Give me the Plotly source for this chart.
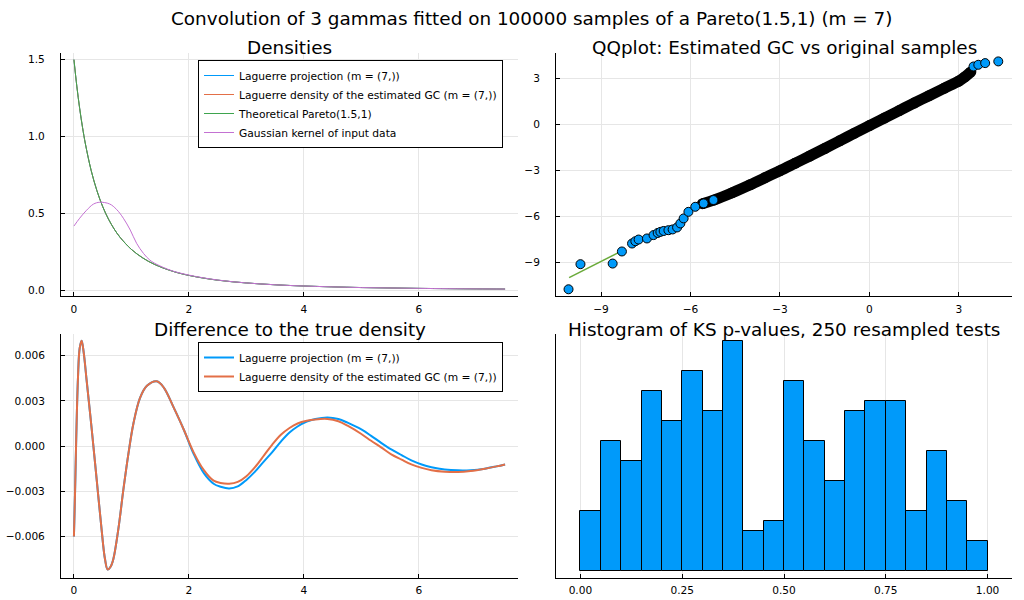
import plotly.graph_objects as go

# Plots.jl default palette
BLUE = "#009AFA"
ORANGE = "#E36F47"
GREEN = "#3EA44E"
PURPLE = "#C371D2"
QQ_GREEN = "#6AAA3A"
FONT = "DejaVu Sans"

# ---- Densities panel ----
dens_x = [0.0, 0.05, 0.1, 0.15, 0.2, 0.3, 0.4, 0.5, 0.6, 0.7, 0.8, 1.0, 1.2, 1.4,
          1.7, 2.0, 2.5, 3.0, 3.5, 4.0, 5.0, 6.0, 7.0, 7.5]
pareto_density = [1.5, 1.328, 1.182, 1.058, 0.951, 0.778, 0.647, 0.544, 0.463, 0.398,
                  0.345, 0.265, 0.209, 0.168, 0.125, 0.096, 0.065, 0.047, 0.035, 0.027,
                  0.017, 0.0116, 0.0083, 0.0071]
# the two Laguerre densities sit exactly under the Pareto curve at this scale
projection_density = pareto_density
estimated_gc_density = pareto_density

kernel_x = [0.0, 0.1, 0.22, 0.34, 0.45, 0.62, 0.74, 0.86, 0.98, 1.09, 1.21, 1.32, 1.44,
            1.7, 2.0, 2.5, 3.0, 3.5, 4.0, 5.0, 6.0, 7.0, 7.5]
kernel_density = [0.417, 0.468, 0.52, 0.56, 0.572, 0.561, 0.526, 0.468, 0.391, 0.305,
                  0.239, 0.196, 0.168, 0.127, 0.098, 0.066, 0.047, 0.035, 0.027, 0.017,
                  0.0116, 0.0083, 0.0071]

# ---- Difference to the true density ----
diff_x = [0.0, 0.02, 0.04, 0.07, 0.10, 0.134, 0.17, 0.22, 0.31, 0.395, 0.48, 0.54, 0.587,
          0.64, 0.686, 0.773, 0.86, 0.948, 1.035, 1.15, 1.27, 1.44, 1.56, 1.73, 1.91,
          2.08, 2.26, 2.43, 2.55, 2.7, 2.85, 3.0, 3.15, 3.31, 3.45, 3.6, 3.75, 3.89,
          4.05, 4.2, 4.41, 4.6, 4.76, 5.0, 5.17, 5.35, 5.52, 5.7, 5.87, 6.05, 6.22,
          6.45, 6.68, 6.9, 7.15, 7.35, 7.5]
diff_projection = [-0.0060, -0.0030, 0.0005, 0.0045, 0.0065, 0.0070, 0.0062, 0.0044,
                   0.0011, -0.0022, -0.0055, -0.0075, -0.0082, -0.0080, -0.0075, -0.0055,
                   -0.0029, -0.0005, 0.0015, 0.0032, 0.0040, 0.0043, 0.0039, 0.0026,
                   0.0011, -0.0005, -0.0018, -0.0025, -0.0027, -0.00282, -0.00268,
                   -0.00225, -0.0017, -0.0010, -0.0004, 0.0003, 0.0009, 0.0013, 0.00163,
                   0.0018, 0.0019, 0.0018, 0.00155, 0.0011, 0.00068, 0.0002, -0.00022,
                   -0.0006, -0.00095, -0.00122, -0.0014, -0.00155, -0.00161, -0.0016,
                   -0.0015, -0.00135, -0.00122]
diff_estimated_gc = [-0.0060, -0.0030, 0.0005, 0.0045, 0.0065, 0.0070, 0.0062, 0.0044,
                     0.0011, -0.0022, -0.0055, -0.0075, -0.0082, -0.0080, -0.0075, -0.0055,
                     -0.0029, -0.0005, 0.0015, 0.0032, 0.0040, 0.0043, 0.0039, 0.0026,
                     0.0011, -0.0004, -0.0016, -0.0023, -0.00245, -0.0025, -0.00238,
                     -0.0020, -0.0014, -0.0006, 0.0001, 0.00075, 0.0012, 0.0015, 0.00168,
                     0.00177, 0.0018, 0.00165, 0.00135, 0.0008, 0.00035, -0.0001, -0.00055,
                     -0.0009, -0.00122, -0.00145, -0.0016, -0.0017, -0.00172, -0.00165,
                     -0.0015, -0.00135, -0.00122]

# ---- QQ plot ----
qq_line_x = [-10.07, -8.3]
qq_line_y = [-10.0, -8.25]
# dense middle part, where the markers merge into one band
qq_band_x = [-5.6, -5.2, -4.6, -4.0, -3.5, -3.0, -2.5, -2.0, -1.5, -1.0, -0.5, 0.0, 0.5,
             1.0, 1.5, 2.0, 2.5, 3.0, 3.2, 3.4]
qq_band_y = [-5.17, -4.92, -4.45, -3.93, -3.47, -3.01, -2.53, -2.05, -1.56, -1.06, -0.56,
             -0.06, 0.43, 0.92, 1.41, 1.89, 2.37, 2.85, 3.12, 3.45]
# isolated points in both tails
qq_tail_x = [-10.09, -9.69, -8.61, -8.30, -7.96, -7.85, -7.74, -7.46, -7.24, -7.1, -7.01,
             -6.9, -6.74, -6.6, -6.45, -6.34, -6.23, -6.07, -5.84, -5.56, -5.23,
             3.49, 3.65, 3.88, 4.32]
qq_tail_y = [-10.76, -9.12, -9.08, -8.29, -7.77, -7.62, -7.51, -7.44, -7.22, -7.08, -7.01,
             -6.95, -6.90, -6.85, -6.72, -6.46, -6.13, -5.70, -5.37, -5.15, -4.93,
             3.80, 3.91, 4.02, 4.13]

# ---- Histogram of KS p-values ----
pvalue_bins = [0.025, 0.075, 0.125, 0.175, 0.225, 0.275, 0.325, 0.375, 0.425, 0.475,
               0.525, 0.575, 0.625, 0.675, 0.725, 0.775, 0.825, 0.875, 0.925, 0.975]
pvalue_counts = [6, 13, 11, 18, 15, 20, 16, 23, 4, 5, 19, 13, 9, 16, 17, 17, 6, 12, 7, 3]

fig = go.Figure()

# densities
fig.add_trace(go.Scatter(x=dens_x, y=projection_density, mode="lines", line_shape="spline",
                         line=dict(color=BLUE, width=1), name="Laguerre projection (m = (7,))",
                         xaxis="x", yaxis="y", legend="legend"))
fig.add_trace(go.Scatter(x=dens_x, y=estimated_gc_density, mode="lines", line_shape="spline",
                         line=dict(color=ORANGE, width=1),
                         name="Laguerre density of the estimated GC (m = (7,))",
                         xaxis="x", yaxis="y", legend="legend"))
fig.add_trace(go.Scatter(x=dens_x, y=pareto_density, mode="lines", line_shape="spline",
                         line=dict(color=GREEN, width=1), name="Theoretical Pareto(1.5,1)",
                         xaxis="x", yaxis="y", legend="legend"))
fig.add_trace(go.Scatter(x=kernel_x, y=kernel_density, mode="lines", line_shape="spline",
                         line=dict(color=PURPLE, width=1), name="Gaussian kernel of input data",
                         xaxis="x", yaxis="y", legend="legend"))

# qq plot
fig.add_trace(go.Scatter(x=qq_line_x, y=qq_line_y, mode="lines",
                         line=dict(color=QQ_GREEN, width=1.5), showlegend=False,
                         xaxis="x2", yaxis="y2"))
fig.add_trace(go.Scatter(x=qq_band_x, y=qq_band_y, mode="lines+markers", line_shape="spline",
                         line=dict(color="black", width=11),
                         marker=dict(size=11, color="black"), showlegend=False,
                         xaxis="x2", yaxis="y2"))
fig.add_trace(go.Scatter(x=qq_tail_x, y=qq_tail_y, mode="markers",
                         marker=dict(size=9, color=BLUE, line=dict(color="black", width=1)),
                         showlegend=False, xaxis="x2", yaxis="y2"))

# differences
fig.add_trace(go.Scatter(x=diff_x, y=diff_projection, mode="lines", line_shape="spline",
                         line=dict(color=BLUE, width=2), name="Laguerre projection (m = (7,))",
                         xaxis="x3", yaxis="y3", legend="legend2"))
fig.add_trace(go.Scatter(x=diff_x, y=diff_estimated_gc, mode="lines", line_shape="spline",
                         line=dict(color=ORANGE, width=2),
                         name="Laguerre density of the estimated GC (m = (7,))",
                         xaxis="x3", yaxis="y3", legend="legend2"))

# histogram
fig.add_trace(go.Bar(x=pvalue_bins, y=pvalue_counts, width=0.05,
                     marker=dict(color=BLUE, line=dict(color="black", width=1)),
                     showlegend=False, xaxis="x4", yaxis="y4"))

W, H = 1024, 600
left_dom = [61 / W, 518 / W]
right_dom = [556 / W, 1012 / W]
top_dom = [1 - 296 / H, 1 - 52.7 / H]
bot_dom = [1 - 577.7 / H, 1 - 334 / H]

TICK_SIZE = 10.6
axis_style = dict(showline=True, linecolor="black", linewidth=1, mirror=False,
                  ticks="inside", ticklen=4, tickcolor="black", showgrid=True,
                  gridcolor="#e6e6e6", gridwidth=0.6, zeroline=False,
                  tickfont=dict(family=FONT, size=TICK_SIZE, color="black"))
minus_ticks = ["\u22129", "\u22126", "\u22123", "0", "3"]

fig.update_layout(
    width=W, height=H,
    margin=dict(l=0, r=0, t=0, b=0),
    paper_bgcolor="white", plot_bgcolor="white",
    font=dict(family=FONT, color="black"),
    xaxis=dict(axis_style, domain=left_dom, anchor="y", range=[-0.225, 7.725],
               tickvals=[0, 2, 4, 6], ticklabelstandoff=3),
    yaxis=dict(axis_style, domain=top_dom, anchor="x", range=[-0.038, 1.545],
               tickvals=[0, 0.5, 1.0, 1.5], ticktext=["0.0", "0.5", "1.0", "1.5"],
               ticklabelstandoff=13),
    xaxis2=dict(axis_style, domain=right_dom, anchor="y2", range=[-10.51, 4.78],
                tickvals=[-9, -6, -3, 0, 3], ticktext=minus_ticks, ticklabelstandoff=3),
    yaxis2=dict(axis_style, domain=top_dom, anchor="x2", range=[-11.2, 4.7],
                tickvals=[-9, -6, -3, 0, 3], ticktext=minus_ticks, ticklabelstandoff=13),
    xaxis3=dict(axis_style, domain=left_dom, anchor="y3", range=[-0.225, 7.725],
                tickvals=[0, 2, 4, 6], ticklabelstandoff=3),
    yaxis3=dict(axis_style, domain=bot_dom, anchor="x3", range=[-0.00874, 0.00744],
                tickvals=[-0.006, -0.003, 0, 0.003, 0.006],
                ticktext=["\u22120.006", "\u22120.003", "0.000", "0.003", "0.006"],
                ticklabelstandoff=13),
    xaxis4=dict(axis_style, domain=right_dom, anchor="y4", range=[-0.06, 1.06],
                tickvals=[0, 0.25, 0.5, 0.75, 1.0],
                ticktext=["0.00", "0.25", "0.50", "0.75", "1.00"], ticklabelstandoff=3),
    yaxis4=dict(axis_style, domain=bot_dom, anchor="x4", range=[-0.69, 23.69],
                showticklabels=False, ticks="", showgrid=False),
    legend=dict(x=503 / W, y=1 - 60 / H, xanchor="right", yanchor="top",
                bgcolor="white", bordercolor="black", borderwidth=1, itemwidth=30,
                font=dict(family=FONT, size=10.7, color="black")),
    legend2=dict(x=503 / W, y=1 - 342 / H, xanchor="right", yanchor="top",
                 bgcolor="white", bordercolor="black", borderwidth=1, itemwidth=30,
                 font=dict(family=FONT, size=10.7, color="black")),
    bargap=0,
)

titles = [
    ("Convolution of 3 gammas fitted on 100000 samples of a Pareto(1.5,1) (m = 7)", 531, 18),
    ("Densities", 289.5, 47),
    ("QQplot: Estimated GC vs original samples", 784, 47),
    ("Difference to the true density", 289.5, 329),
    ("Histogram of KS p-values, 250 resampled tests", 784, 329),
]
for text, px, py in titles:
    fig.add_annotation(text=text, x=px / W, y=1 - py / H, xref="paper", yref="paper",
                       xanchor="center", yanchor="middle", showarrow=False,
                       font=dict(family=FONT, size=18.4, color="black"))

# drop the browser's default body margin so the figure sits at the page corner
fig.write_html("out.html", config={"displayModeBar": False},
               post_script="document.body.style.margin = '0';")
